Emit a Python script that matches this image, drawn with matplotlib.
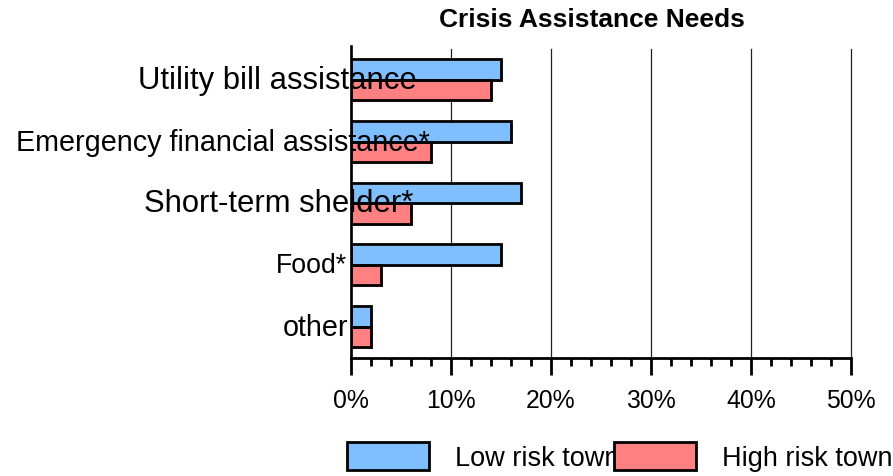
import matplotlib
matplotlib.use("Agg")
import matplotlib.pyplot as plt
from matplotlib.patches import Patch
from matplotlib.ticker import MultipleLocator
from matplotlib.transforms import ScaledTranslation
import numpy as np

# Survey data (percent of respondents)
categories = ["Utility bill assistance", "Emergency financial assistance*",
              "Short-term shelder*", "Food*", "other"]
low_risk = [15, 16, 17, 15, 2]
high_risk = [14, 8, 6, 3, 2]
series_names = ["Low risk towns", "High risk towns"]
x_ticks = [0, 10, 20, 30, 40, 50]
x_tick_labels = ["0%", "10%", "20%", "30%", "40%", "50%"]

# Category label styling: font size (pt) and horizontal centre offset from the axis (px)
label_sizes = [22.3, 20.7, 22.3, 19.2, 20.7]
label_offsets_px = [-74, -128, -72, -39.5, -35]

plt.rcParams['font.family'] = ['Liberation Sans', 'DejaVu Sans']

DPI = 100
W, H = 893, 477
fig = plt.figure(figsize=(W / DPI, H / DPI), dpi=DPI)
ax = fig.add_axes([351 / W, 1 - 358.5 / H, 500 / W, 308.5 / H])

blue = '#80BFFF'
red = '#FF8080'
y = np.arange(len(categories))
h = 0.333

# Fill drawn with a small offset under a black outline
shadow = ScaledTranslation(1.5 / DPI, -2 / DPI, fig.dpi_scale_trans)
for vals, off, col in [(low_risk, -h / 2, blue), (high_risk, h / 2, red)]:
    fills = ax.barh(y + off, vals, height=h, color=col, linewidth=0)
    for p in fills:
        p.set_transform(ax.transData + shadow)
    ax.barh(y + off, vals, height=h, fill=False, edgecolor='black', linewidth=2)

ax.set_xlim(0, 50)
ax.set_ylim(len(categories) - 0.5, -0.5)
ax.set_yticks([])
ax.set_xticks(x_ticks, x_tick_labels)
ax.xaxis.set_minor_locator(MultipleLocator(2))
ax.tick_params(axis='x', which='major', length=12.2, width=2, pad=10, labelsize=17.8)
ax.tick_params(axis='x', which='minor', length=6, width=2)
ax.grid(axis='x', which='major', color='#222222', linewidth=0.9, clip_on=False)
ax.set_axisbelow(True)
for s in ['top', 'right']:
    ax.spines[s].set_visible(False)
ax.spines['left'].set_linewidth(1.9)
ax.spines['left'].set_bounds(len(categories) - 0.5, -0.55)
ax.spines['bottom'].set_linewidth(2)

for i, (cat, size, dx) in enumerate(zip(categories, label_sizes, label_offsets_px)):
    ax.text(0, i, cat,
            transform=ax.get_yaxis_transform() + ScaledTranslation(dx / DPI, 0, fig.dpi_scale_trans),
            ha='center', va='center', fontsize=size, zorder=5, clip_on=False)

fig.text(591.5 / W, 1 - 20 / H, "Crisis Assistance Needs", ha='center', va='center',
         fontsize=19, fontweight='bold')

handles = [Patch(facecolor=blue, edgecolor='black', linewidth=2),
           Patch(facecolor=red, edgecolor='black', linewidth=2)]
fs = 19.5
px = fs * DPI / 72
fig.legend(handles, series_names, loc='upper left',
           bbox_to_anchor=(346.7 / W, 1 - 443 / H), bbox_transform=fig.transFigure,
           ncol=2, frameon=False, fontsize=fs, borderpad=0, borderaxespad=0,
           handlelength=82 / px, handleheight=1.21, handletextpad=26 / px,
           columnspacing=-18.4 / px)

fig.savefig('out.png', dpi=DPI)
